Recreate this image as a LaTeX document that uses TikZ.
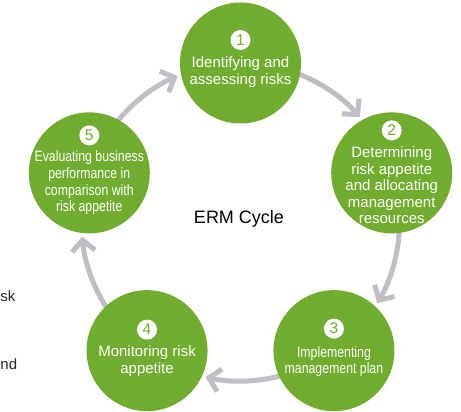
\documentclass[tikz,border=0pt]{standalone}
\usepackage{fontspec}
\setmainfont{Liberation Sans}
\newfontfamily\narrowfont[FakeStretch=0.82]{Liberation Sans}
\usetikzlibrary{arrows.meta}
\definecolor{ergreen}{RGB}{112,172,46}
\definecolor{ergray}{RGB}{192,190,197}
\definecolor{ertext}{RGB}{40,40,40}
\tikzset{
  stage/.style={circle, fill=ergreen, minimum size=121pt, inner sep=0pt},
  badge/.style={circle, fill=white, minimum size=20pt, inner sep=0pt, text=ergreen,
    font=\fontsize{15.5}{15.5}\selectfont},
  lbl/.style={text=white, align=center, inner sep=0pt, font=\fontsize{15}{16.5}\selectfont},
  nlbl/.style={text=white, align=center, inner sep=0pt, font=\narrowfont\fontsize{15}{16.8}\selectfont},
  cyc/.style={draw=ergray, line width=5pt, -{Straight Barb[length=11pt,width=23pt]}},
  frag/.style={text=ertext, inner sep=0pt, anchor=base west, font=\fontsize{15}{15}\selectfont},
}
\begin{document}
\begin{tikzpicture}[x=1pt,y=1pt]
\useasboundingbox (0,0) rectangle (461,412);
\fill[white] (0,0) rectangle (461,412);
% centre of the cycle
\coordinate (O) at (240.5,190);
% arc start points (under the source circle)
\coordinate (s1) at ([shift={(70:159)}]O);
\coordinate (s2) at ([shift={(-2:159)}]O);
\coordinate (s3) at ([shift={(-74:159)}]O);
\coordinate (s4) at ([shift={(-146:159)}]O);
\coordinate (s5) at ([shift={(142:159)}]O);
% connectors (drawn first, circles on top)
\draw[cyc] (s1) arc[start angle=70, end angle=41.3, radius=159];
\draw[cyc] (s2) arc[start angle=-2, end angle=-30.7, radius=159];
\draw[cyc] (s3) arc[start angle=-74, end angle=-102.7, radius=159];
\draw[cyc] (s4) arc[start angle=-146, end angle=-174.7, radius=159];
\draw[cyc] (s5) arc[start angle=142, end angle=113.3, radius=159];
% stages
\node[stage] (c1) at ([shift={(90:159)}]O) {};
\node[stage] (c2) at ([shift={(18:159)}]O) {};
\node[stage] (c3) at ([shift={(-54:159)}]O) {};
\node[stage] (c4) at ([shift={(-126:159)}]O) {};
\node[stage] (c5) at ([shift={(162:159)}]O) {};
% badges
\node[badge] (n1) at ([yshift=23]c1.center) {1};
\node[badge] (n2) at ([yshift=42.5]c2.center) {2};
\node[badge] (n3) at ([yshift=22]c3.center) {3};
\node[badge] (n4) at ([yshift=21]c4.center) {4};
\node[badge] (n5) at ([yshift=37.5]c5.center) {5};
% labels
\node[lbl] (t1) at ([yshift=-9]c1.center) {Identifying and\\assessing risks};
\node[lbl] (t2) at ([yshift=-12.5]c2.center) {Determining\\risk appetite\\and allocating\\management\\resources};
\node[nlbl] (t3) at ([yshift=-11]c3.center) {Implementing\\management plan};
\node[lbl] (t4) at ([yshift=-10.5]c4.center) {Monitoring risk\\appetite};
\node[nlbl] (t5) at ([yshift=-10]c5.center) {Evaluating business\\performance in\\comparison with\\risk appetite};
% centre title
\node[text=black, font=\fontsize{18}{18}\selectfont] (title) at (239,193) {ERM Cycle};
% text fragments at the left edge
\node[frag] (f1) at (0.3,110) {sk};
\node[frag] (f2) at (0.3,42) {nd};
\end{tikzpicture}
\end{document}
